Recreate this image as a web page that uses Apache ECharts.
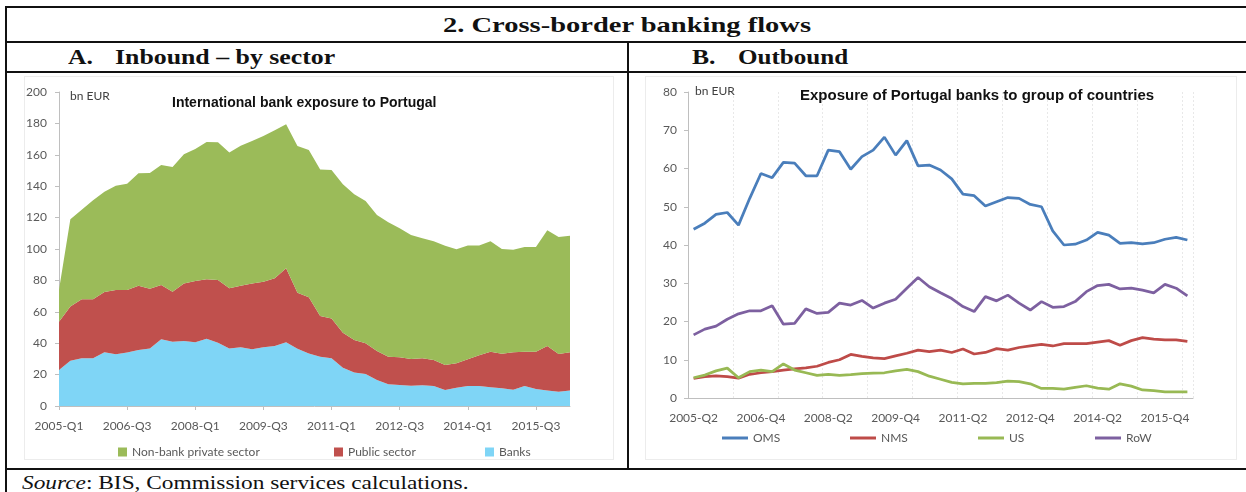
<!DOCTYPE html>
<html>
<head>
<meta charset="utf-8">
<script src="https://cdn.jsdelivr.net/npm/echarts@6/dist/echarts.min.js"></script>
<style>
  body { margin: 0; width: 1246px; height: 492px; background: #fff; position: relative; overflow: hidden; }
  .ln { position: absolute; background: #111; }
  .hd { position: absolute; font-family: "Liberation Serif", "Times New Roman", serif; font-weight: bold; color: #111; white-space: nowrap; transform-origin: 0 50%; }
  .src { position: absolute; font-family: "Liberation Serif", "Times New Roman", serif; font-size: 19px; color: #111; white-space: nowrap; transform-origin: 0 50%; }
  .frame { position: absolute; border: 1px solid #ececec; }
  .chart { position: absolute; }
</style>
</head>
<body>
<div class="ln" style="left:6px;top:6px;width:1240px;height:2px"></div>
<div class="ln" style="left:5px;top:6px;width:2px;height:486px"></div>
<div class="ln" style="left:6px;top:41px;width:1240px;height:2px"></div>
<div class="ln" style="left:6px;top:71px;width:1240px;height:2px"></div>
<div class="ln" style="left:6px;top:468px;width:1240px;height:2px"></div>
<div class="ln" style="left:627px;top:42px;width:2px;height:427px"></div>

<div class="hd" id="t0" style="left:443px;top:12px;font-size:22px;line-height:26px">2. Cross-border banking flows</div>
<div class="hd" id="t1" style="left:68px;top:45px;font-size:21px;line-height:24px">A.</div>
<div class="hd" id="t2" style="left:115px;top:45px;font-size:21px;line-height:24px">Inbound – by sector</div>
<div class="hd" id="t3" style="left:692px;top:45px;font-size:21px;line-height:24px">B.</div>
<div class="hd" id="t4" style="left:738px;top:45px;font-size:21px;line-height:24px">Outbound</div>
<div class="src" id="t5" style="left:22px;top:472px;line-height:22px"><i>Source</i>: BIS, Commission services calculations.</div>

<div class="frame" style="left:24px;top:76px;width:588px;height:382px"></div>
<div class="frame" style="left:645px;top:76px;width:590px;height:382px"></div>

<div class="chart" id="ca" style="left:7px;top:73px;width:620px;height:395px"></div>
<div class="chart" id="cb" style="left:629px;top:73px;width:617px;height:395px"></div>

<script>
// quarters for panel A (2005-Q1 .. 2016-Q2)
const quartersA = [
  '2005-Q1', '2005-Q2', '2005-Q3', '2005-Q4', '2006-Q1', '2006-Q2', '2006-Q3', '2006-Q4',
  '2007-Q1', '2007-Q2', '2007-Q3', '2007-Q4', '2008-Q1', '2008-Q2', '2008-Q3', '2008-Q4',
  '2009-Q1', '2009-Q2', '2009-Q3', '2009-Q4', '2010-Q1', '2010-Q2', '2010-Q3', '2010-Q4',
  '2011-Q1', '2011-Q2', '2011-Q3', '2011-Q4', '2012-Q1', '2012-Q2', '2012-Q3', '2012-Q4',
  '2013-Q1', '2013-Q2', '2013-Q3', '2013-Q4', '2014-Q1', '2014-Q2', '2014-Q3', '2014-Q4',
  '2015-Q1', '2015-Q2', '2015-Q3', '2015-Q4', '2016-Q1', '2016-Q2'
]
// panel B starts one quarter later (2005-Q2 .. 2016-Q2)
const quartersB = quartersA.slice(1)

// A. inbound, bn EUR
const banks = [22.9, 28.9, 30.4, 30.4, 34.2, 33.0, 34.0, 35.7, 36.7, 42.5, 41.0, 41.4, 40.6, 42.9, 40.3, 36.7,
  37.4, 36.1, 37.4, 38.2, 40.6, 36.5, 33.5, 31.4, 30.4, 24.4, 21.4, 20.4, 16.6, 13.8, 13.4, 12.9,
  13.2, 12.7, 10.2, 11.7, 12.7, 12.7, 11.9, 11.3, 10.4, 12.7, 10.8, 9.8, 9.1, 9.8]
const publicSector = [30.8, 34.4, 37.6, 37.6, 38.4, 40.9, 39.9, 40.9, 38.0, 34.5, 31.8, 36.7, 39.0, 37.8, 40.0, 38.3,
  39.2, 42.0, 41.8, 43.1, 47.1, 35.7, 35.7, 25.9, 25.4, 22.3, 20.6, 19.5, 18.4, 17.6, 17.6, 17.1,
  17.2, 16.6, 15.9, 15.5, 17.0, 19.6, 22.7, 22.0, 23.8, 21.9, 23.8, 28.4, 24.0, 24.4]
const nonBank = [20.3, 55.7, 57.0, 63.0, 63.9, 66.4, 67.7, 71.6, 73.7, 76.5, 79.4, 82.2, 84.1, 87.5, 87.7, 86.5,
  89.2, 90.7, 92.8, 94.3, 91.7, 93.4, 93.8, 93.4, 94.5, 94.5, 92.8, 90.7, 86.7, 85.6, 82.2, 78.9,
  76.4, 75.7, 75.9, 72.6, 72.6, 70.0, 70.4, 66.7, 65.4, 66.7, 66.7, 73.8, 74.5, 74.3]

// B. outbound, bn EUR
const oms = [44.1, 45.7, 48.0, 48.5, 45.2, 52.2, 58.7, 57.6, 61.6, 61.4, 58.1, 58.1, 64.8, 64.4, 59.8,
  63.1, 64.8, 68.2, 63.5, 67.3, 60.7, 60.9, 59.6, 57.3, 53.3, 52.9, 50.2, 51.3, 52.4, 52.2,
  50.6, 50.0, 43.7, 40.0, 40.2, 41.3, 43.3, 42.6, 40.4, 40.6, 40.3, 40.6, 41.5, 42.0, 41.3]
const nms = [5.1, 5.6, 5.8, 5.6, 5.2, 6.2, 6.6, 6.9, 7.3, 7.6, 7.9, 8.3, 9.3, 10.0, 11.4,
  10.9, 10.5, 10.3, 11.0, 11.7, 12.5, 12.1, 12.5, 11.9, 12.8, 11.5, 11.9, 12.9, 12.5, 13.2,
  13.6, 14.0, 13.6, 14.2, 14.2, 14.2, 14.6, 15.0, 13.8, 15.0, 15.8, 15.4, 15.2, 15.2, 14.8]
const us = [5.3, 6.0, 7.1, 7.8, 5.3, 6.9, 7.3, 6.9, 8.9, 7.3, 6.6, 5.9, 6.2, 5.9, 6.1,
  6.4, 6.5, 6.6, 7.1, 7.5, 6.9, 5.7, 4.9, 4.1, 3.7, 3.8, 3.8, 4.0, 4.4, 4.3,
  3.7, 2.5, 2.5, 2.3, 2.8, 3.2, 2.6, 2.3, 3.7, 3.1, 2.1, 1.9, 1.6, 1.6, 1.6]
const row = [16.5, 18.0, 18.8, 20.6, 22.0, 22.8, 22.8, 24.1, 19.3, 19.5, 23.3, 22.1, 22.4, 24.8, 24.3,
  25.5, 23.5, 24.8, 25.8, 28.7, 31.5, 29.1, 27.5, 26.0, 23.9, 22.6, 26.5, 25.4, 26.9, 24.8,
  23.0, 25.2, 23.7, 23.9, 25.2, 27.8, 29.4, 29.7, 28.5, 28.7, 28.2, 27.5, 29.7, 28.7, 26.7]

// stretch the serif headings to the widths seen in the picture
function fit(id, w) {
  const el = document.getElementById(id)
  el.style.transform = 'scaleX(' + (w / el.offsetWidth) + ')'
}
fit('t0', 368)
fit('t2', 220)
fit('t4', 110)
fit('t5', 446)
document.getElementById('t1').style.transform = 'scaleX(1.22)'
document.getElementById('t3').style.transform = 'scaleX(1.22)'

const FONT = 'Lato, "Open Sans", sans-serif'
const GREY = '#bfbfbf'
const TXT = '#595959'

function legendItem(name, left, top, icon, w, h) {
  return {
    data: [name],
    left: left,
    top: top,
    padding: 0,
    icon: icon,
    itemWidth: w,
    itemHeight: h,
    itemGap: 3,
    textStyle: { color: TXT, fontSize: 12, fontFamily: FONT, padding: [0, 0, 0, 0] }
  }
}

const chartA = echarts.init(document.getElementById('ca'))
chartA.setOption({
  animation: false,
  title: [
    { text: 'International bank exposure to Portugal', left: 165, top: 23, padding: 0,
      textStyle: { fontSize: 14, fontWeight: 'bold', color: '#111', fontFamily: '"Liberation Sans", Arial, sans-serif' } },
    { text: 'bn EUR', left: 63, top: 17, padding: 0,
      textStyle: { fontSize: 12, fontWeight: 'normal', color: '#404040', fontFamily: FONT } }
  ],
  legend: [
    legendItem('Non-bank private sector', 111, 373, 'rect', 9, 9),
    legendItem('Public sector', 327, 373, 'rect', 9, 9),
    legendItem('Banks', 478, 373, 'rect', 9, 9)
  ],
  grid: { left: 52, right: 57, top: 19, bottom: 62 },
  xAxis: {
    type: 'category',
    data: quartersA,
    boundaryGap: false,
    axisLine: { lineStyle: { color: GREY } },
    axisTick: { interval: 5, length: 4, lineStyle: { color: GREY } },
    axisLabel: { interval: 5, margin: 14, color: TXT, fontSize: 12, fontFamily: FONT },
    splitLine: { show: false }
  },
  yAxis: {
    type: 'value',
    min: 0,
    max: 200,
    interval: 20,
    axisLine: { show: true, lineStyle: { color: GREY } },
    axisTick: { show: true, length: 4, lineStyle: { color: GREY } },
    axisLabel: { margin: 12, color: TXT, fontSize: 12, fontFamily: FONT },
    splitLine: { show: false }
  },
  series: [
    { name: 'Banks', type: 'line', stack: 'a', data: banks, symbol: 'none',
      lineStyle: { width: 0 }, itemStyle: { color: '#7fd5f6' }, areaStyle: { color: '#7fd5f6', opacity: 1 } },
    { name: 'Public sector', type: 'line', stack: 'a', data: publicSector, symbol: 'none',
      lineStyle: { width: 0 }, itemStyle: { color: '#c0504d' }, areaStyle: { color: '#c0504d', opacity: 1 } },
    { name: 'Non-bank private sector', type: 'line', stack: 'a', data: nonBank, symbol: 'none',
      lineStyle: { width: 0 }, itemStyle: { color: '#9bbb59' }, areaStyle: { color: '#9bbb59', opacity: 1 } }
  ]
})

const chartB = echarts.init(document.getElementById('cb'))
chartB.setOption({
  animation: false,
  title: [
    { text: 'Exposure of Portugal banks to group of countries', left: 171, top: 15, padding: 0,
      textStyle: { fontSize: 15, fontWeight: 'bold', color: '#111', fontFamily: '"Liberation Sans", Arial, sans-serif' } },
    { text: 'bn EUR', left: 66, top: 12, padding: 0,
      textStyle: { fontSize: 12, fontWeight: 'normal', color: '#404040', fontFamily: FONT } }
  ],
  legend: [
    legendItem('OMS', 93, 359, 'rect', 26, 3),
    legendItem('NMS', 221, 359, 'rect', 26, 3),
    legendItem('US', 349, 359, 'rect', 26, 3),
    legendItem('RoW', 466, 359, 'rect', 26, 3)
  ],
  grid: { left: 59, right: 53, top: 19, bottom: 70 },
  xAxis: {
    type: 'category',
    data: quartersB,
    boundaryGap: true,
    axisLine: { lineStyle: { color: GREY } },
    axisTick: { interval: 3, length: 5, lineStyle: { color: GREY } },
    axisLabel: { interval: 5, margin: 14, color: TXT, fontSize: 12, fontFamily: FONT },
    splitLine: { show: true, interval: 3, lineStyle: { color: '#e8e8e8', type: [2, 2], width: 1 } }
  },
  yAxis: {
    type: 'value',
    min: 0,
    max: 80,
    interval: 10,
    axisLine: { show: true, lineStyle: { color: GREY } },
    axisTick: { show: true, length: 4, lineStyle: { color: GREY } },
    axisLabel: { margin: 11, color: TXT, fontSize: 12, fontFamily: FONT },
    splitLine: { show: false }
  },
  series: [
    { name: 'OMS', type: 'line', data: oms, symbol: 'none', itemStyle: { color: '#4a7ebb' }, lineStyle: { width: 2.75, color: '#4a7ebb' } },
    { name: 'NMS', type: 'line', data: nms, symbol: 'none', itemStyle: { color: '#be4b48' }, lineStyle: { width: 2.75, color: '#be4b48' } },
    { name: 'US', type: 'line', data: us, symbol: 'none', itemStyle: { color: '#98b954' }, lineStyle: { width: 2.75, color: '#98b954' } },
    { name: 'RoW', type: 'line', data: row, symbol: 'none', itemStyle: { color: '#7d60a0' }, lineStyle: { width: 2.75, color: '#7d60a0' } }
  ]
})
</script>
</body>
</html>
